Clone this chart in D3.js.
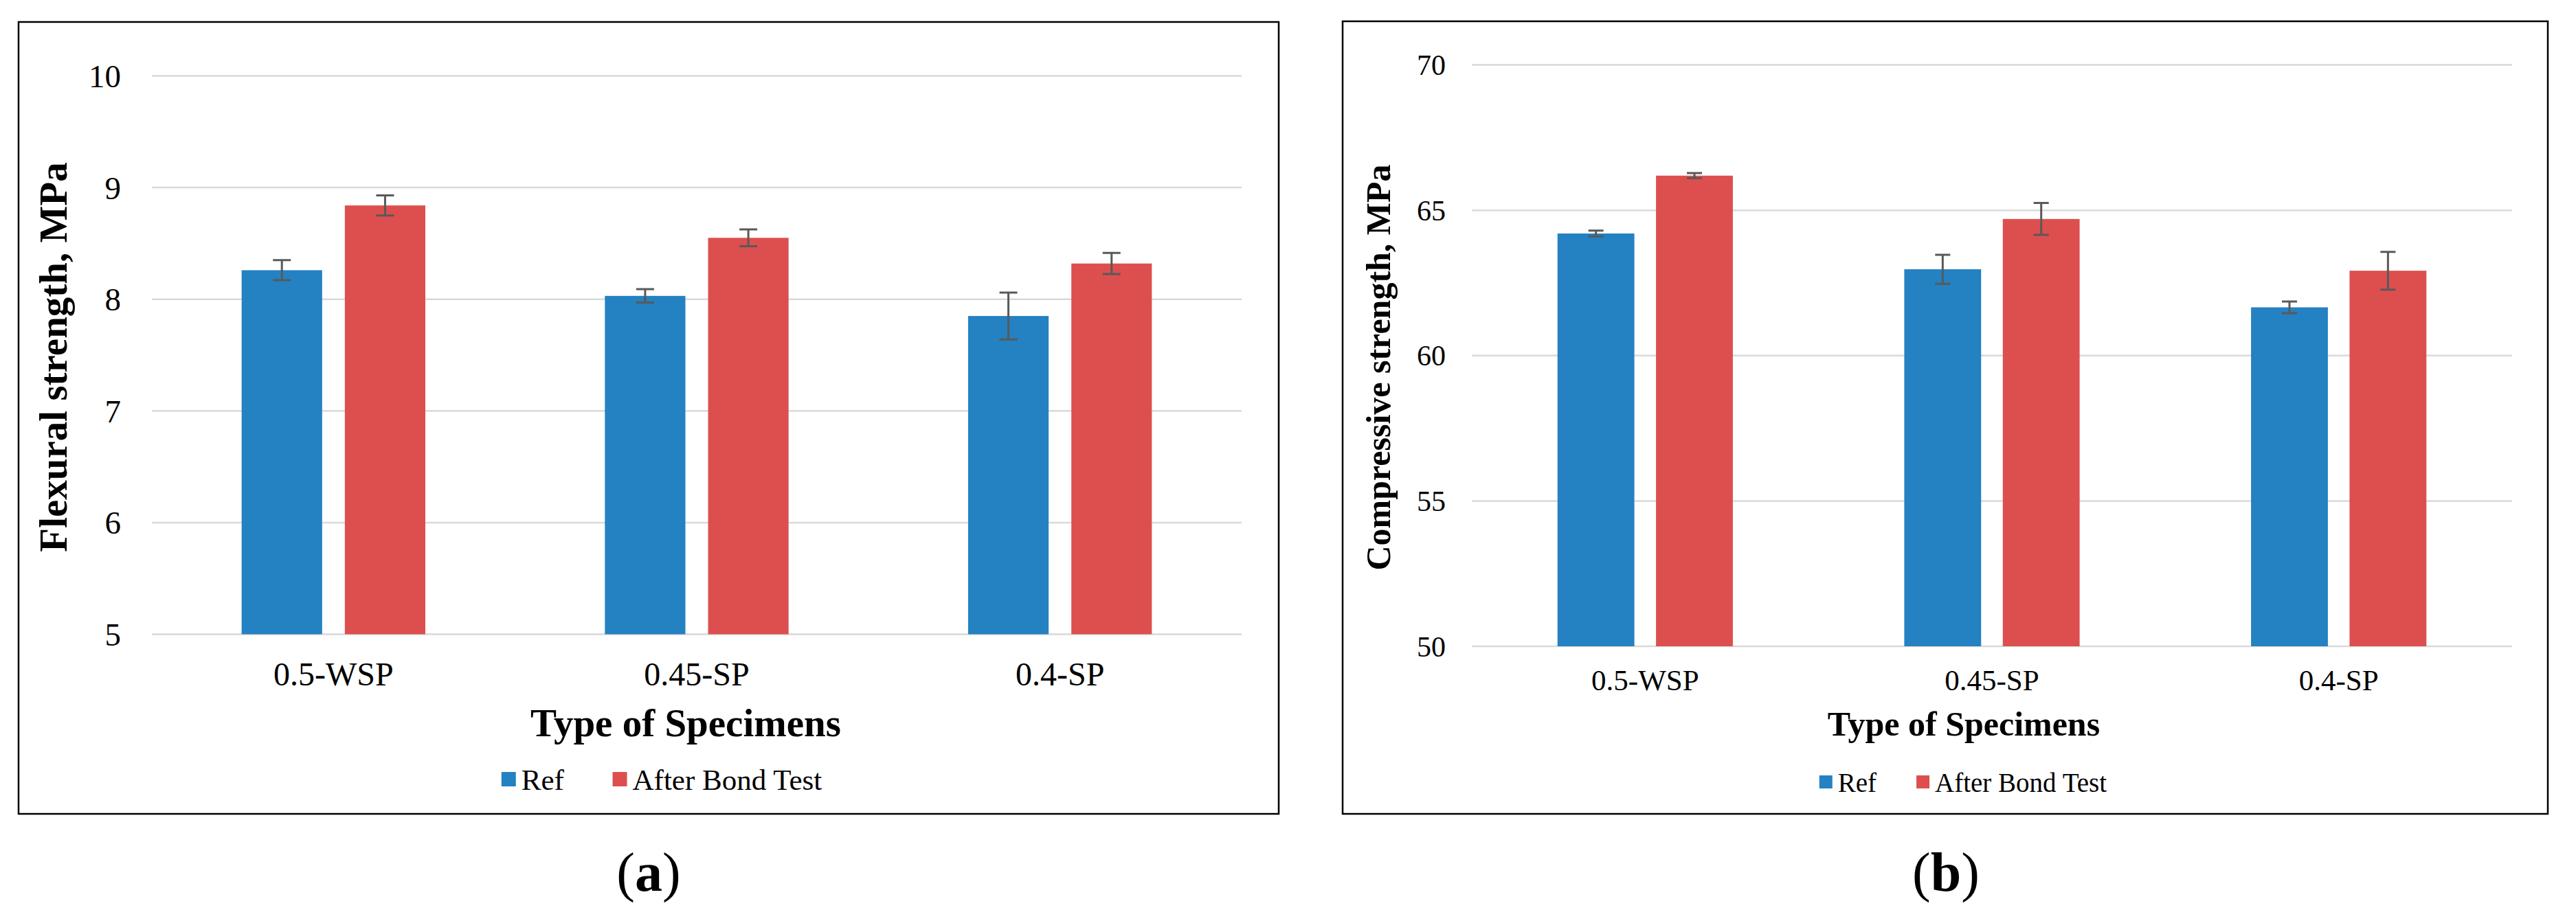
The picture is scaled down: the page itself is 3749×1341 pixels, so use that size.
<!DOCTYPE html>
<html>
<head>
<meta charset="utf-8">
<script src="https://cdn.jsdelivr.net/npm/d3@7"></script>
<style>
    body { margin: 0; background: #fff; }
    svg { display: block; }
    text { font-family: "Liberation Serif", "Times New Roman", serif; fill: #000; }
</style>
</head>
<body>
<svg id="chart" width="3749" height="1341"></svg>
<script>
// data
const categories = ["0.5-WSP", "0.45-SP", "0.4-SP"];
const seriesNames = ["Ref", "After Bond Test"];
const seriesColors = ["#2481c2", "#dd4f4f"];

const flexRef = [8.26, 8.03, 7.85];
const flexRefErr = [0.09, 0.06, 0.21];
const flexAfter = [8.84, 8.55, 8.32];
const flexAfterErr = [0.09, 0.075, 0.095];
const flexTicks = [5, 6, 7, 8, 9, 10];

const compRef = [64.2, 62.97, 61.66];
const compRefErr = [0.1, 0.5, 0.2];
const compAfter = [66.19, 64.7, 62.92];
const compAfterErr = [0.09, 0.55, 0.65];
const compTicks = [50, 55, 60, 65, 70];

const svg = d3.select("#chart");
svg.append("rect").attr("width", 3749).attr("height", 1341).attr("fill", "#fff");

const panels = [
    {
        frame: [27, 32, 1861, 1185],
        plot: { x0: 221, x1: 1807, y0: 923.5, y1: 110.5 },
        domain: [5, 10],
        ticks: flexTicks,
        values: [flexRef, flexAfter],
        errors: [flexRefErr, flexAfterErr],
        yTitle: "Flexural strength, MPa",
        yTitlePos: [97, 520],
        yTitleSize: 57,
        tickX: 176,
        tickSize: 47,
        catBase: 998,
        catSize: 48,
        xTitlePos: [998, 1072],
        xTitleSize: 57,
        legendCenter: [963, 1150],
        legendSize: 43,
        legendBox: 21,
        legendGap: 70,
        capHalf: 13,
        caption: "a",
        captionX: 944,
    },
    {
        frame: [1954, 31, 3708, 1185],
        plot: { x0: 2142, x1: 3656, y0: 941, y1: 94.5 },
        domain: [50, 70],
        ticks: compTicks,
        values: [compRef, compAfter],
        errors: [compRefErr, compAfterErr],
        yTitle: "Compressive strength, MPa",
        yTitlePos: [2023, 535],
        yTitleSize: 50,
        tickX: 2104,
        tickSize: 42,
        catBase: 1005,
        catSize: 43,
        xTitlePos: [2858, 1071],
        xTitleSize: 50,
        legendCenter: [2857, 1153],
        legendSize: 39,
        legendBox: 19,
        legendGap: 58,
        capHalf: 11,
        caption: "b",
        captionX: 2832,
    },
];

panels.forEach(drawPanel);

function drawPanel(p) {
    const g = svg.append("g");
    const [fx0, fy0, fx1, fy1] = p.frame;

    const x = d3.scaleBand().domain(categories).range([p.plot.x0, p.plot.x1]).padding(0);
    const xs = d3.scaleBand().domain(seriesNames).range([0, x.bandwidth()]).paddingInner(0.22).paddingOuter(0.87);
    const y = d3.scaleLinear().domain(p.domain).range([p.plot.y0, p.plot.y1]);

    // gridlines
    g.append("g")
        .selectAll("line")
        .data(p.ticks)
        .join("line")
        .attr("x1", p.plot.x0)
        .attr("x2", p.plot.x1)
        .attr("y1", (d) => y(d))
        .attr("y2", (d) => y(d))
        .attr("stroke", "#d9d9d9")
        .attr("stroke-width", 2.5);

    // y tick labels
    g.append("g")
        .selectAll("text")
        .data(p.ticks)
        .join("text")
        .attr("x", p.tickX)
        .attr("y", (d) => y(d))
        .attr("dy", "0.35em")
        .attr("text-anchor", "end")
        .attr("font-size", p.tickSize)
        .text((d) => d);

    // bars
    const rows = [];
    seriesNames.forEach((s, si) => {
        categories.forEach((c, ci) => {
            rows.push({ cat: c, series: s, color: seriesColors[si], v: p.values[si][ci], e: p.errors[si][ci] });
        });
    });

    g.append("g")
        .selectAll("rect")
        .data(rows)
        .join("rect")
        .attr("x", (d) => x(d.cat) + xs(d.series))
        .attr("width", xs.bandwidth())
        .attr("y", (d) => y(d.v))
        .attr("height", (d) => y(p.domain[0]) - y(d.v))
        .attr("fill", (d) => d.color);

    // error bars
    const eb = g.append("g").attr("stroke", "#595959").attr("stroke-width", 3).attr("fill", "none");
    const cx = (d) => x(d.cat) + xs(d.series) + xs.bandwidth() / 2;
    eb.selectAll("path")
        .data(rows)
        .join("path")
        .attr("d", (d) => {
            const c = cx(d), t = y(d.v + d.e), b = y(d.v - d.e), h = p.capHalf;
            return `M${c},${t}V${b}M${c - h},${t}H${c + h}M${c - h},${b}H${c + h}`;
        });

    // category labels
    g.append("g")
        .selectAll("text")
        .data(categories)
        .join("text")
        .attr("x", (d) => x(d) + x.bandwidth() / 2)
        .attr("y", p.catBase)
        .attr("text-anchor", "middle")
        .attr("font-size", p.catSize)
        .text((d) => d);

    // axis titles
    g.append("text")
        .attr("x", p.xTitlePos[0])
        .attr("y", p.xTitlePos[1])
        .attr("text-anchor", "middle")
        .attr("font-size", p.xTitleSize)
        .attr("font-weight", "bold")
        .text("Type of Specimens");

    g.append("text")
        .attr("transform", `translate(${p.yTitlePos[0]},${p.yTitlePos[1]}) rotate(-90)`)
        .attr("text-anchor", "middle")
        .attr("font-size", p.yTitleSize)
        .attr("font-weight", "bold")
        .text(p.yTitle);

    // legend
    const lg = g.append("g");
    const items = lg
        .selectAll("g")
        .data(seriesNames)
        .join("g");
    items
        .append("rect")
        .attr("width", p.legendBox)
        .attr("height", p.legendBox)
        .attr("y", -p.legendBox - 5)
        .attr("fill", (d, i) => seriesColors[i]);
    items
        .append("text")
        .attr("x", p.legendBox + 8)
        .attr("font-size", p.legendSize)
        .text((d) => d);
    let offset = 0;
    const widths = [];
    items.each(function () {
        widths.push(this.getBBox().width);
    });
    const total = d3.sum(widths) + p.legendGap * (widths.length - 1);
    items.attr("transform", (d, i) => {
        const t = `translate(${p.legendCenter[0] - total / 2 + offset},${p.legendCenter[1]})`;
        offset += widths[i] + p.legendGap;
        return t;
    });

    // frame
    g.append("rect")
        .attr("x", fx0)
        .attr("y", fy0)
        .attr("width", fx1 - fx0)
        .attr("height", fy1 - fy0)
        .attr("fill", "none")
        .attr("stroke", "#000")
        .attr("stroke-width", 2.5);

    // panel caption
    const cap = svg
        .append("text")
        .attr("x", p.captionX)
        .attr("y", 1297)
        .attr("text-anchor", "middle")
        .attr("font-size", 80);
    cap.append("tspan").text("(");
    cap.append("tspan").attr("font-weight", "bold").text(p.caption);
    cap.append("tspan").text(")");
}
</script>
</body>
</html>
